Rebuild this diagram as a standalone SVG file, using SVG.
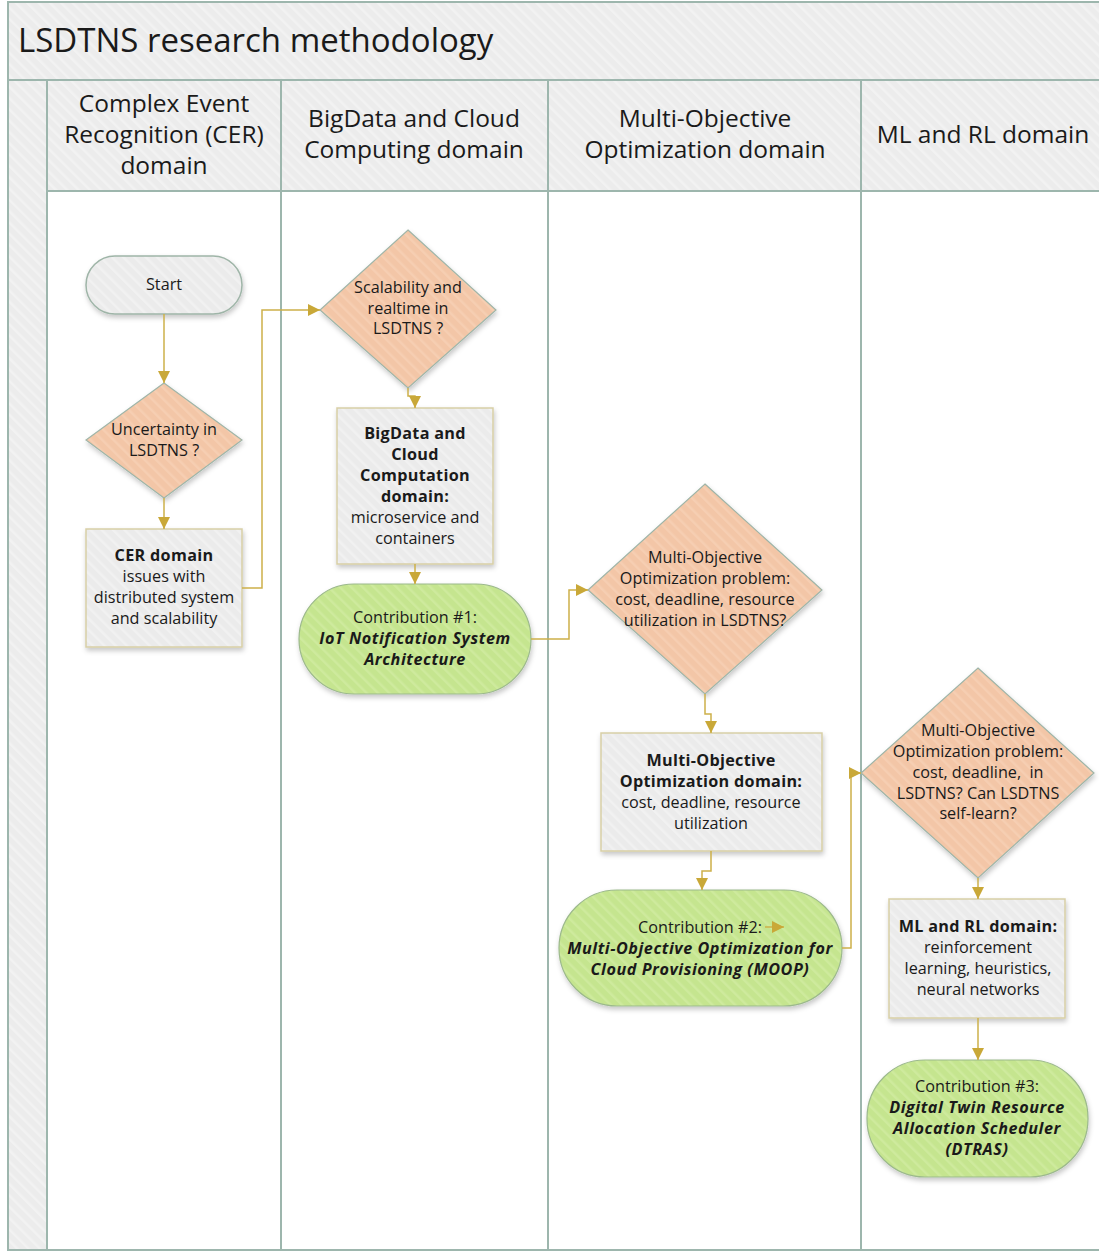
<svg xmlns="http://www.w3.org/2000/svg" width="1099" height="1255" viewBox="0 0 1099 1255">
  <defs>
    <style>
      .t { font-family: "Open Sans", "Noto Sans", "DejaVu Sans", sans-serif; fill: #1a1a1a; text-anchor: middle; }
      .title { font-size: 33px; text-anchor: start; }
      .lane { font-size: 24.5px; }
      .n { font-size: 16.2px; }
      .b { font-weight: bold; font-size: 16.2px; letter-spacing: 0.3px; }
      .bi { font-weight: bold; font-style: italic; font-size: 16.2px; letter-spacing: 0.55px; }
      .frame { stroke: #9db6ad; stroke-width: 2; }
      .conn { fill: none; stroke: #cdb04a; stroke-width: 1.5; }
      .dia { fill: url(#hPeach); stroke: #9fb5a8; stroke-width: 1.2; filter: url(#sh); }
      .box { fill: url(#hGray); stroke: #d8cfa6; stroke-width: 1.5; filter: url(#sh); }
      .pill { fill: url(#hGreen); stroke: #9cb98c; stroke-width: 1.2; filter: url(#sh); }
      .pillg { fill: url(#hGray); stroke: #9fb5a8; stroke-width: 1.5; filter: url(#sh); }
    </style>
    <pattern id="hBand" width="8" height="8" patternUnits="userSpaceOnUse" patternTransform="rotate(-45)">
      <rect width="8" height="8" fill="#ececec"/>
      <rect width="2.5" height="8" fill="#f2f2f2"/>
    </pattern>
    <pattern id="hGray" width="8" height="8" patternUnits="userSpaceOnUse" patternTransform="rotate(-45)">
      <rect width="8" height="8" fill="#ebebeb"/>
      <rect width="2.5" height="8" fill="#f1f1f1"/>
    </pattern>
    <pattern id="hPeach" width="8" height="8" patternUnits="userSpaceOnUse" patternTransform="rotate(-45)">
      <rect width="8" height="8" fill="#f3c6a7"/>
      <rect width="2.5" height="8" fill="#f6ceb2"/>
    </pattern>
    <pattern id="hGreen" width="8" height="8" patternUnits="userSpaceOnUse" patternTransform="rotate(-45)">
      <rect width="8" height="8" fill="#c5e58f"/>
      <rect width="2.5" height="8" fill="#ceea9d"/>
    </pattern>
    <filter id="sh" x="-10%" y="-10%" width="125%" height="130%">
      <feDropShadow dx="1" dy="3" stdDeviation="2.5" flood-color="#000" flood-opacity="0.22"/>
    </filter>
    <marker id="arr" viewBox="0 0 12 12" refX="12" refY="6" markerWidth="12" markerHeight="12" markerUnits="userSpaceOnUse" orient="auto">
      <path d="M0,0 L12,6 L0,12 z" fill="#c9a838"/>
    </marker>
  </defs>

  <!-- swimlane frame -->
  <g id="frame">
    <rect x="0" y="0" width="1099" height="1255" fill="#ffffff"/>
    <rect x="8" y="2" width="1100" height="78" fill="url(#hBand)" class="frame"/>
    <rect x="8" y="80" width="39" height="1170" fill="url(#hBand)" class="frame"/>
    <rect x="47" y="80" width="1060" height="111" fill="url(#hBand)" class="frame"/>
    <line x1="8" y1="1250" x2="1099" y2="1250" class="frame"/>
    <line x1="281" y1="80" x2="281" y2="1250" class="frame"/>
    <line x1="548" y1="80" x2="548" y2="1250" class="frame"/>
    <line x1="861" y1="80" x2="861" y2="1250" class="frame"/>
    <text class="t title" x="18" y="52">LSDTNS research methodology</text>
    <text class="t lane" x="164" y="112">Complex Event</text>
    <text class="t lane" x="164" y="143">Recognition (CER)</text>
    <text class="t lane" x="164" y="174">domain</text>
    <text class="t lane" x="414" y="127">BigData and Cloud</text>
    <text class="t lane" x="414" y="158">Computing domain</text>
    <text class="t lane" x="705" y="127">Multi-Objective</text>
    <text class="t lane" x="705" y="158">Optimization domain</text>
    <text class="t lane" x="983" y="143">ML and RL domain</text>
  </g>

  <g id="start">
    <rect class="pillg" x="86" y="256" width="156" height="58" rx="29"/>
    <text class="t n" x="164" y="290">Start</text>
  </g>

  <g id="q-uncertainty">
    <polygon class="dia" points="164,383 242,440 164,498 86,440"/>
    <text class="t n" x="164" y="435">Uncertainty in</text>
    <text class="t n" x="164" y="456">LSDTNS ?</text>
  </g>

  <g id="cer-domain">
    <rect class="box" x="86" y="529" width="156" height="118"/>
    <text class="t n b" x="164" y="561">CER domain</text>
    <text class="t n" x="164" y="582">issues with</text>
    <text class="t n" x="164" y="603">distributed system</text>
    <text class="t n" x="164" y="624">and scalability</text>
  </g>

  <g id="q-scalability">
    <polygon class="dia" points="408,230 496,310 408,388 320,310"/>
    <text class="t n" x="408" y="293">Scalability and</text>
    <text class="t n" x="408" y="314">realtime in</text>
    <text class="t n" x="408" y="334">LSDTNS ?</text>
  </g>

  <g id="bigdata-domain">
    <rect class="box" x="337" y="408" width="156" height="156"/>
    <text class="t n b" x="415" y="439">BigData and</text>
    <text class="t n b" x="415" y="460">Cloud</text>
    <text class="t n b" x="415" y="481">Computation</text>
    <text class="t n b" x="415" y="502">domain:</text>
    <text class="t n" x="415" y="523">microservice and</text>
    <text class="t n" x="415" y="544">containers</text>
  </g>

  <g id="contribution-1">
    <rect class="pill" x="299" y="584" width="232" height="110" rx="55"/>
    <text class="t n" x="415" y="623">Contribution #1:</text>
    <text class="t n bi" x="415" y="644">IoT Notification System</text>
    <text class="t n bi" x="415" y="665">Architecture</text>
  </g>

  <g id="q-moo">
    <polygon class="dia" points="705,484 822,590 705,694 588,590"/>
    <text class="t n" x="705" y="563">Multi-Objective</text>
    <text class="t n" x="705" y="584">Optimization problem:</text>
    <text class="t n" x="705" y="605">cost, deadline, resource</text>
    <text class="t n" x="705" y="626">utilization in LSDTNS?</text>
  </g>

  <g id="moo-domain">
    <rect class="box" x="601" y="733" width="221" height="118"/>
    <text class="t n b" x="711" y="766">Multi-Objective</text>
    <text class="t n b" x="711" y="787">Optimization domain:</text>
    <text class="t n" x="711" y="808">cost, deadline, resource</text>
    <text class="t n" x="711" y="829">utilization</text>
  </g>

  <g id="contribution-2">
    <rect class="pill" x="559" y="890" width="283" height="116" rx="58"/>
    <text class="t n" x="700" y="933">Contribution #2:</text>
    <text class="t n bi" x="700" y="954">Multi-Objective Optimization for</text>
    <text class="t n bi" x="700" y="975">Cloud Provisioning (MOOP)</text>
  </g>

  <g id="q-selflearn">
    <polygon class="dia" points="978,668 1094,773 978,878 861,773"/>
    <text class="t n" x="978" y="736">Multi-Objective</text>
    <text class="t n" x="978" y="757">Optimization problem:</text>
    <text class="t n" x="978" y="778" xml:space="preserve">cost, deadline,  in</text>
    <text class="t n" x="978" y="799">LSDTNS? Can LSDTNS</text>
    <text class="t n" x="978" y="819">self-learn?</text>
  </g>

  <g id="ml-domain">
    <rect class="box" x="889" y="899" width="176" height="119"/>
    <text class="t n b" x="978" y="932">ML and RL domain:</text>
    <text class="t n" x="978" y="953">reinforcement</text>
    <text class="t n" x="978" y="974">learning, heuristics,</text>
    <text class="t n" x="978" y="995">neural networks</text>
  </g>

  <g id="contribution-3">
    <rect class="pill" x="867" y="1060" width="221" height="117" rx="58"/>
    <text class="t n" x="977" y="1092">Contribution #3:</text>
    <text class="t n bi" x="977" y="1113">Digital Twin Resource</text>
    <text class="t n bi" x="977" y="1134">Allocation Scheduler</text>
    <text class="t n bi" x="977" y="1155">(DTRAS)</text>
  </g>

  <!-- connectors, drawn last so they sit above the shapes -->
  <g id="connectors">
    <path class="conn" d="M164,314 V383" marker-end="url(#arr)"/>
    <path class="conn" d="M164,498 V529" marker-end="url(#arr)"/>
    <path class="conn" d="M242,588 H262 V310 H320" marker-end="url(#arr)"/>
    <path class="conn" d="M408,388 V396 H415 V408" marker-end="url(#arr)"/>
    <path class="conn" d="M415,564 V584" marker-end="url(#arr)"/>
    <path class="conn" d="M531,639 H569 V590 H588" marker-end="url(#arr)"/>
    <path class="conn" d="M705,694 V714 H711 V733" marker-end="url(#arr)"/>
    <path class="conn" d="M711,851 V871 H702 V890" marker-end="url(#arr)"/>
    <path class="conn" d="M765,927 H784" marker-end="url(#arr)"/>
    <path class="conn" d="M842,948 H851 V773 H861" marker-end="url(#arr)"/>
    <path class="conn" d="M978,878 V899" marker-end="url(#arr)"/>
    <path class="conn" d="M978,1018 V1060" marker-end="url(#arr)"/>
  </g>
</svg>
